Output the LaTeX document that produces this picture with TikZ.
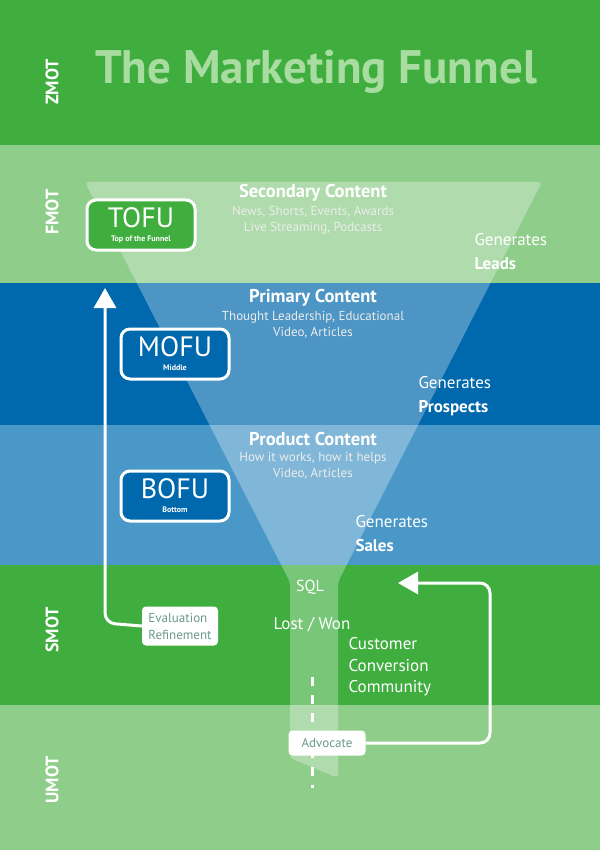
\documentclass[tikz,border=0pt]{standalone}
\usepackage{fontspec}
\setmainfont{PT Sans}
\usetikzlibrary{arrows.meta}
\definecolor{dg}{HTML}{3FAE3F}
\definecolor{lg}{HTML}{8FCE8A}
\definecolor{db}{HTML}{0068AD}
\definecolor{lb}{HTML}{4A98C8}
\definecolor{ttl}{HTML}{A8DCA0}
\definecolor{boxtxt}{HTML}{6A9A8A}
\begin{document}
\begin{tikzpicture}[x=1pt,y=-1pt,
  side/.style={rotate=90,text=white,font=\bfseries\fontsize{18}{18}\selectfont},
  head/.style={text=white,font=\bfseries\fontsize{18.5}{18}\selectfont},
  sub/.style={text=white!85!gray,font=\fontsize{13}{15.5}\selectfont,align=center},
  gen/.style={text=white,font=\fontsize{17}{24}\selectfont,align=left,anchor=west},
  stage/.style={draw=white,line width=3pt,rounded corners=9pt,minimum width=108pt,minimum height=50pt,text=white,inner sep=0pt,align=center},
  tag/.style={fill=white,rounded corners=4pt,text=boxtxt,font=\fontsize{13}{17}\selectfont,align=left},
  flow/.style={draw=white,line width=3pt,rounded corners=10pt}]
\useasboundingbox (0,0) rectangle (600,850);
\fill[dg] (0,0) rectangle (600,145);
\fill[lg] (0,145) rectangle (600,283);
\fill[db] (0,283) rectangle (600,425);
\fill[lb] (0,425) rectangle (600,565);
\fill[dg] (0,565) rectangle (600,705);
\fill[lg] (0,705) rectangle (600,850);
% funnel
\fill[white,opacity=0.3,rounded corners=4pt] (85,182) -- (542,182) -- (338,582) -- (338,778) -- (290,758) -- (290,582) -- cycle;
\node[text=ttl,font=\bfseries\fontsize{47}{47}\selectfont] (title) at (316,72) {The Marketing Funnel};
\node[side] (z) at (52,82) {ZMOT};
\node[side] (f) at (52,212) {FMOT};
\node[side] (s) at (52,630) {SMOT};
\node[side] (u) at (52,780) {UMOT};
\node[head] (h1) at (313,193) {Secondary Content};
\node[sub] (s1) at (313,220) {News, Shorts, Events, Awards\\Live Streaming, Podcasts};
\node[gen] (g1) at (471,252) {Generates\\\textbf{Leads}};
\node[head] (h2) at (313,298) {Primary Content};
\node[sub] (s2) at (313,325) {Thought Leadership, Educational\\Video, Articles};
\node[gen] (g2) at (415,396) {Generates\\\textbf{Prospects}};
\node[head] (h3) at (313,439) {Product Content};
\node[sub] (s3) at (313,466) {How it works, how it helps\\Video, Articles};
\node[gen] (g3) at (352,534) {Generates\\\textbf{Sales}};
\node[stage,fill=dg] (tofu) at (141,225) {\fontsize{28}{28}\selectfont TOFU\\[2pt]\bfseries\fontsize{8}{8}\selectfont Top of the Funnel};
\node[stage,fill=db] (mofu) at (175,354) {\fontsize{28}{28}\selectfont MOFU\\[2pt]\bfseries\fontsize{8}{8}\selectfont Middle};
\node[stage,fill=db] (bofu) at (175,496) {\fontsize{28}{28}\selectfont BOFU\\[2pt]\bfseries\fontsize{8}{8}\selectfont Bottom};
\node[text=white,font=\fontsize{16}{16}\selectfont] (sql) at (310,587) {SQL};
\node[text=white,font=\fontsize{17}{17}\selectfont] (lw) at (312,625) {Lost / Won};
\node[gen,font=\fontsize{17}{21.5}\selectfont] (ccc) at (345,667) {Customer\\Conversion\\Community};
\node[tag,minimum width=76pt,minimum height=39pt] (eval) at (180,626) {Evaluation\\Refinement};
\node[tag,minimum width=77pt,minimum height=25pt] (adv) at (327,743) {Advocate};
\coordinate (ev1) at (105,623);
\coordinate (ev2) at (105,288);
\draw[flow,-{Triangle[width=22pt,length=20pt]}] (eval.west) -- (ev1) -- (ev2);
\coordinate (a1) at (490,743);
\coordinate (a2) at (490,583);
\coordinate (a3) at (398,583);
\draw[flow,-{Triangle[width=22pt,length=20pt]}] (adv.east) -- (a1) -- (a2) -- (a3);
\coordinate (d1) at (312,677);
\coordinate (d2) at (312,788);
\draw[white,line width=3pt,dash pattern=on 9pt off 9pt] (d1) -- (d2);
\end{tikzpicture}
\end{document}
